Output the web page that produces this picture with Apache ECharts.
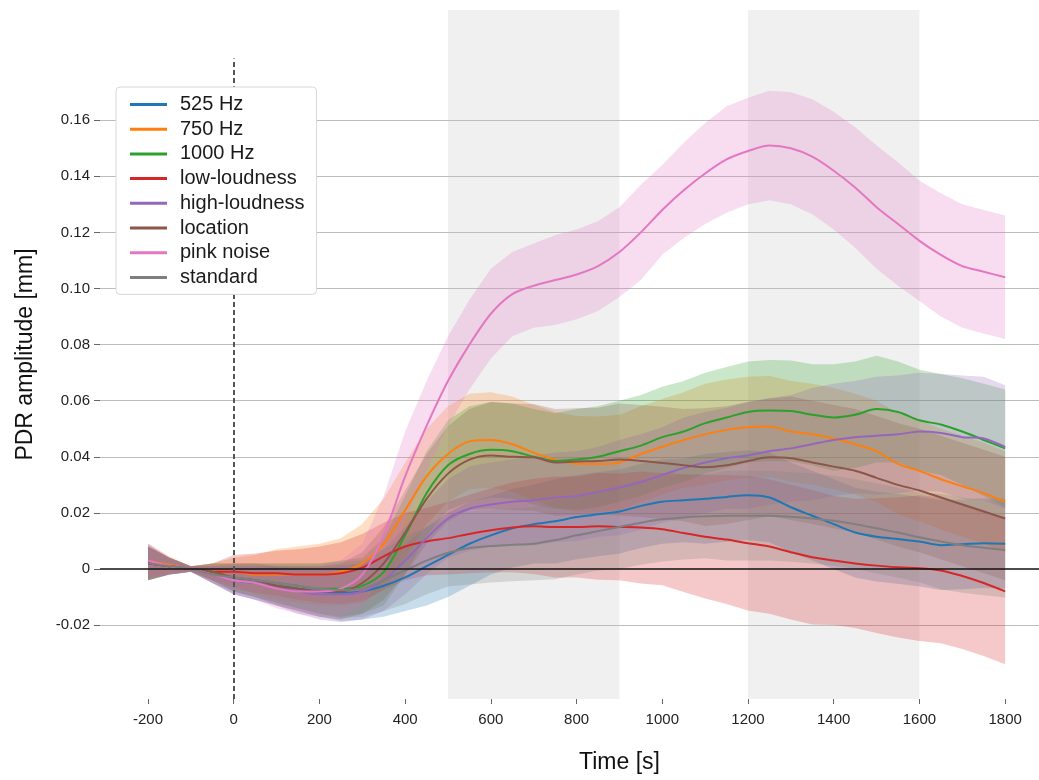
<!DOCTYPE html>
<html>
<head>
<meta charset="utf-8">
<script src="https://cdn.jsdelivr.net/npm/echarts@6/dist/echarts.min.js"></script>
<style>
  html, body { margin: 0; padding: 0; background: #fff; }
  #chart { width: 1039px; height: 780px; }
</style>
</head>
<body>
<div id="chart"></div>
<script>
// Time axis (s), sampled every 50 s
const times = [-200,-150,-100,-50,0,50,100,150,200,250,300,350,400,450,500,550,600,650,700,750,800,850,900,950,1000,1050,1100,1150,1200,1250,1300,1350,1400,1450,1500,1550,1600,1650,1700,1750,1800];

// Condition names (legend order)
const conditions = ['525 Hz','750 Hz','1000 Hz','low-loudness','high-loudness','location','pink noise','standard'];

// Mean PDR amplitude (mm) per condition
const mean525 = [0.002,0.001,0,-0.002,-0.004,-0.005,-0.006,-0.007,-0.008,-0.0085,-0.008,-0.006,-0.003,0.001,0.005,0.009,0.012,0.0145,0.016,0.017,0.0185,0.0195,0.0205,0.0225,0.024,0.0245,0.025,0.0257,0.0263,0.0255,0.022,0.019,0.016,0.013,0.0115,0.0107,0.0098,0.0085,0.0088,0.0092,0.009];
const mean750 = [0.003,0.0015,0,-0.001,-0.001,-0.002,-0.002,-0.002,-0.002,-0.001,0.002,0.009,0.021,0.033,0.041,0.0455,0.046,0.0445,0.0415,0.039,0.0375,0.0374,0.038,0.041,0.0436,0.046,0.048,0.0496,0.0505,0.0508,0.049,0.048,0.0465,0.0445,0.042,0.0375,0.035,0.032,0.0295,0.027,0.024];
const mean1000 = [0.002,0.001,0,-0.001,-0.003,-0.004,-0.005,-0.006,-0.007,-0.007,-0.006,-0.001,0.012,0.027,0.037,0.041,0.0425,0.042,0.040,0.0385,0.039,0.040,0.042,0.044,0.047,0.049,0.052,0.054,0.056,0.0565,0.0563,0.055,0.054,0.055,0.057,0.056,0.053,0.0515,0.049,0.046,0.043];
const meanLow = [0.002,0.001,0,-0.001,-0.001,-0.0015,-0.0015,-0.002,-0.002,-0.0015,0.0005,0.0045,0.008,0.0098,0.011,0.0125,0.0138,0.0148,0.0152,0.015,0.015,0.0152,0.015,0.0148,0.0142,0.0128,0.0115,0.0105,0.0092,0.008,0.006,0.0042,0.003,0.002,0.0012,0.0006,0.0003,-0.0005,-0.0025,-0.005,-0.008];
const meanHigh = [0.003,0.001,0,-0.002,-0.004,-0.005,-0.006,-0.008,-0.009,-0.009,-0.008,-0.004,0.003,0.011,0.018,0.0215,0.023,0.024,0.0245,0.0255,0.026,0.0275,0.029,0.031,0.0335,0.036,0.038,0.0395,0.0405,0.042,0.043,0.0445,0.046,0.047,0.0475,0.048,0.049,0.0485,0.047,0.0465,0.0435];
const meanLocation = [0.002,0.001,0,-0.001,-0.003,-0.004,-0.006,-0.007,-0.008,-0.008,-0.005,0.002,0.013,0.025,0.034,0.039,0.0405,0.040,0.0398,0.038,0.0383,0.0385,0.039,0.0385,0.0378,0.037,0.0363,0.037,0.0385,0.0398,0.0395,0.038,0.0365,0.035,0.0325,0.030,0.028,0.0255,0.023,0.0205,0.018];
const meanPink = [0.003,0.001,0,-0.002,-0.004,-0.005,-0.007,-0.008,-0.008,-0.007,-0.002,0.012,0.033,0.051,0.067,0.08,0.091,0.098,0.101,0.103,0.105,0.108,0.113,0.12,0.128,0.135,0.141,0.146,0.149,0.151,0.150,0.147,0.142,0.136,0.129,0.123,0.117,0.112,0.108,0.106,0.104];
const meanStandard = [0.002,0.001,0,-0.002,-0.003,-0.004,-0.005,-0.006,-0.007,-0.0075,-0.007,-0.004,-0.0005,0.003,0.0058,0.0075,0.0082,0.0086,0.009,0.0103,0.012,0.0135,0.015,0.0165,0.0177,0.0184,0.0188,0.019,0.019,0.019,0.0186,0.018,0.0172,0.016,0.0145,0.013,0.0113,0.0098,0.0085,0.0076,0.0068];

// Half-width of the confidence band (mm) per condition
const ci525 = [0.006,0.003,0.001,0.003,0.005,0.006,0.007,0.008,0.009,0.010,0.010,0.011,0.012,0.014,0.015,0.015,0.014,0.014,0.014,0.015,0.015,0.015,0.015,0.015,0.015,0.015,0.016,0.016,0.016,0.016,0.016,0.016,0.016,0.016,0.016,0.016,0.016,0.016,0.016,0.016,0.016];
const ci750 = [0.006,0.003,0.001,0.003,0.005,0.007,0.009,0.010,0.011,0.012,0.014,0.016,0.017,0.017,0.017,0.017,0.017,0.017,0.017,0.017,0.017,0.017,0.017,0.017,0.017,0.017,0.018,0.018,0.018,0.018,0.018,0.018,0.018,0.018,0.018,0.018,0.018,0.018,0.018,0.018,0.018];
const ci1000 = [0.006,0.003,0.001,0.003,0.005,0.006,0.007,0.008,0.009,0.010,0.010,0.012,0.014,0.015,0.016,0.017,0.017,0.017,0.017,0.017,0.018,0.018,0.018,0.018,0.018,0.018,0.018,0.018,0.018,0.018,0.018,0.018,0.019,0.019,0.019,0.018,0.018,0.018,0.019,0.020,0.021];
const ciLow = [0.006,0.003,0.001,0.003,0.006,0.007,0.008,0.009,0.010,0.011,0.012,0.012,0.012,0.012,0.013,0.014,0.015,0.016,0.017,0.018,0.018,0.019,0.019,0.020,0.020,0.021,0.022,0.023,0.024,0.024,0.024,0.024,0.023,0.023,0.024,0.025,0.026,0.026,0.026,0.026,0.026];
const ciHigh = [0.006,0.003,0.001,0.003,0.005,0.006,0.007,0.008,0.009,0.010,0.010,0.011,0.012,0.013,0.014,0.015,0.015,0.015,0.016,0.016,0.016,0.016,0.017,0.017,0.017,0.018,0.018,0.018,0.019,0.019,0.019,0.020,0.020,0.020,0.021,0.021,0.021,0.021,0.022,0.022,0.022];
const ciLocation = [0.006,0.003,0.001,0.003,0.005,0.006,0.007,0.008,0.009,0.010,0.011,0.013,0.015,0.016,0.017,0.018,0.019,0.019,0.019,0.019,0.019,0.019,0.020,0.020,0.020,0.020,0.021,0.021,0.021,0.021,0.022,0.022,0.022,0.022,0.022,0.022,0.022,0.022,0.022,0.022,0.022];
const ciPink = [0.006,0.003,0.001,0.003,0.005,0.006,0.007,0.008,0.009,0.010,0.011,0.014,0.016,0.016,0.016,0.016,0.016,0.015,0.015,0.016,0.016,0.016,0.016,0.017,0.016,0.017,0.018,0.019,0.019,0.0195,0.020,0.0205,0.021,0.0215,0.022,0.022,0.0215,0.022,0.022,0.022,0.022];
const ciStandard = [0.006,0.003,0.001,0.003,0.005,0.006,0.007,0.008,0.009,0.010,0.010,0.011,0.012,0.012,0.012,0.013,0.013,0.013,0.013,0.014,0.014,0.014,0.015,0.015,0.015,0.015,0.015,0.016,0.016,0.016,0.016,0.016,0.016,0.016,0.016,0.016,0.016,0.017,0.017,0.017,0.017];

const means = [mean525, mean750, mean1000, meanLow, meanHigh, meanLocation, meanPink, meanStandard];
const cis = [ci525, ci750, ci1000, ciLow, ciHigh, ciLocation, ciPink, ciStandard];
const colors = ['#1f77b4','#ff7f0e','#2ca02c','#d62728','#9467bd','#8c564b','#e377c2','#7f7f7f'];

// Axis ticks and stimulus windows
const xTicks = [-200,0,200,400,600,800,1000,1200,1400,1600,1800];
const yTicks = [-0.02,0,0.02,0.04,0.06,0.08,0.10,0.12,0.14,0.16];
const gridValues = [-0.02,0.02,0.04,0.06,0.08,0.10,0.12,0.14,0.16];
const stimulusWindows = [[500,900],[1200,1600]];
const onsetTop = 0.182;

const X_MIN = -312, X_MAX = 1879;
const Y_MIN = -0.04635, Y_MAX = 0.19929;
const FONT = '"Liberation Sans", Arial, Helvetica, sans-serif';

const series = [];

// Backdrop: grey stimulus windows and horizontal grid lines
series.push({
  type: 'line', name: '_backdrop', data: [], silent: true,
  markArea: {
    silent: true, z: 0,
    itemStyle: { color: '#f0f0f0' },
    data: stimulusWindows.map(w => [{ xAxis: w[0], yAxis: Y_MIN }, { xAxis: w[1], yAxis: Y_MAX }])
  },
  markLine: {
    silent: true, z: 1, symbol: 'none', label: { show: false },
    lineStyle: { color: '#bdbdbd', width: 1.2, type: 'solid' },
    data: gridValues.map(v => [{ coord: [X_MIN, v] }, { coord: [X_MAX, v] }])
  }
});

// Mean line followed by its confidence band, one condition at a time
conditions.forEach((name, k) => {
  const m = means[k], c = cis[k];
  series.push({
    type: 'line', name: name,
    data: times.map((t, i) => [t, m[i]]),
    showSymbol: false, smooth: 0.3,
    lineStyle: { color: colors[k], width: 2 },
    itemStyle: { color: colors[k] },
    z: 2
  });
  series.push({
    type: 'custom', name: name + ' band', silent: true, clip: true, z: 2,
    data: [[times[0], m[0]]],
    encode: { x: 0, y: 1 },
    renderItem: (params, api) => {
      const pts = [];
      for (let i = 0; i < times.length; i++) pts.push(api.coord([times[i], m[i] + c[i]]));
      for (let i = times.length - 1; i >= 0; i--) pts.push(api.coord([times[i], m[i] - c[i]]));
      return {
        type: 'polygon',
        shape: { points: pts },
        style: { fill: colors[k], opacity: 0.25 }
      };
    }
  });
});

// Zero line and stimulus-onset marker
series.push({
  type: 'line', name: '_refs', data: [], silent: true,
  markLine: {
    silent: true, z: 3, symbol: 'none', label: { show: false },
    data: [
      [{ coord: [X_MIN, 0], lineStyle: { color: '#111', width: 1.6, type: 'solid' } }, { coord: [X_MAX, 0] }],
      [{ coord: [0, Y_MIN], lineStyle: { color: '#555', width: 2, type: [5, 3] } }, { coord: [0, onsetTop] }]
    ]
  }
});

const chart = echarts.init(document.getElementById('chart'), null, { renderer: 'canvas' });
chart.setOption({
  animation: false,
  backgroundColor: '#fff',
  textStyle: { fontFamily: FONT },
  grid: { left: 100, top: 10, width: 939, height: 689, containLabel: false },
  legend: {
    data: conditions,
    orient: 'vertical',
    left: 116, top: 87,
    icon: 'rect',
    itemWidth: 37, itemHeight: 3, itemGap: 4.7,
    padding: [7.5, 12, 7, 14],
    backgroundColor: '#ffffff',
    borderColor: '#d8d8d8', borderWidth: 1, borderRadius: 4,
    selectedMode: false,
    textStyle: { fontSize: 20, lineHeight: 20, color: '#1a1a1a', fontFamily: FONT, padding: [0, 0, 0, 8] },
    z: 10
  },
  xAxis: {
    type: 'value', min: X_MIN, max: X_MAX,
    axisLine: { show: false, onZero: false },
    splitLine: { show: false },
    axisTick: { show: true, customValues: xTicks, length: 5, lineStyle: { color: '#666', width: 1 } },
    axisLabel: {
      customValues: xTicks, fontSize: 15, color: '#222', margin: 13, fontFamily: FONT,
      formatter: v => String(v)
    },
    name: 'Time [s]', nameLocation: 'middle', nameGap: 52,
    nameTextStyle: { fontSize: 23, color: '#111', fontFamily: FONT, padding: [0, 0, 0, 100] }
  },
  yAxis: {
    type: 'value', min: Y_MIN, max: Y_MAX,
    axisLine: { show: false, onZero: false },
    splitLine: { show: false },
    axisTick: { show: true, customValues: yTicks, length: 6, lineStyle: { color: '#666', width: 1 } },
    axisLabel: {
      customValues: yTicks, fontSize: 15, color: '#222', margin: 10, fontFamily: FONT,
      formatter: v => (Math.abs(v) < 1e-9 ? '0' : v.toFixed(2))
    },
    name: 'PDR amplitude [mm]', nameLocation: 'middle', nameGap: 63,
    nameTextStyle: { fontSize: 23, color: '#111', fontFamily: FONT }
  },
  series: series
});
</script>
</body>
</html>
